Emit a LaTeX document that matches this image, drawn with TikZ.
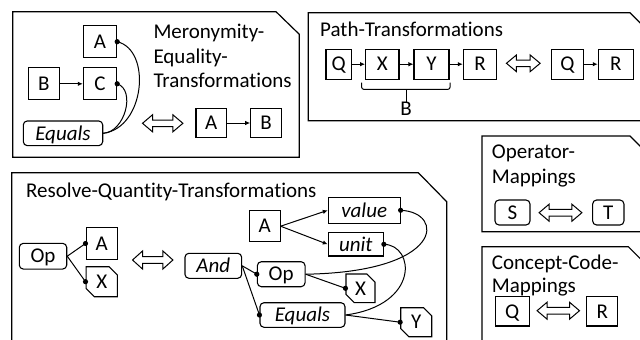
\documentclass[tikz,border=0pt]{standalone}
\usepackage{fontspec}
\setmainfont{Carlito}[Ligatures=NoCommon]
\usetikzlibrary{shapes.misc,arrows.meta,calc}
\newcommand\dblarr[5]{%
  \node[minimum width=#4pt, minimum height=#5pt] (#1) at (#2,#3) {};
  \draw[line width=1pt, line join=miter]
    (#1.west) -- ($(#1.west)+(10,#5/2)$) -- ($(#1.west)+(10,3.3)$)
    -- ($(#1.east)+(-10,3.3)$) -- ($(#1.east)+(-10,#5/2)$) -- (#1.east)
    -- ($(#1.east)+(-10,-#5/2)$) -- ($(#1.east)+(-10,-3.3)$)
    -- ($(#1.west)+(10,-3.3)$) -- ($(#1.west)+(10,-#5/2)$) -- cycle;}
\begin{document}
\begin{tikzpicture}[x=1pt,y=-1pt,
  every node/.style={font=\fontsize{21}{24.5}\selectfont, inner sep=0pt},
  bx/.style={draw, line width=1.1pt, rectangle, text height=13.5pt, text depth=0pt},
  rbx/.style={bx, rounded corners=4pt},
  cbx/.style={draw, line width=1.1pt, chamfered rectangle, chamfered rectangle corners={north east,south west}, chamfered rectangle xsep=5pt, text height=13.5pt, text depth=0pt},
  panel/.style={line width=1.2pt},
  conn/.style={line width=1pt},
  arr/.style={conn, -{Latex[length=5pt,width=4.5pt]}},
  title/.style={anchor=base west, align=left},
  dotc/.style={fill=black}
]
\useasboundingbox (0,0) rectangle (640,340);
\clip (0,0) rectangle (640,340);

% ---------- panels ----------
\draw[panel] (12.7,11.7) -- (276,11.7) -- (299.3,34.3) -- (299.3,157.3) -- (12.7,157.3) -- cycle;
\draw[panel] (308.3,12.7) -- (630,12.7) -- (653,35.7) -- (653,120.7) -- (308.3,120.7) -- cycle;
\draw[panel] (482,136) -- (630,136) -- (653,159) -- (653,231.7) -- (482,231.7) -- cycle;
\draw[panel] (482,246.7) -- (628.3,246.7) -- (651.3,269.7) -- (651.3,360) -- (482,360) -- cycle;
\draw[panel] (11.7,172.7) -- (418.3,172.7) -- (446.7,201.7) -- (446.7,360) -- (11.7,360) -- cycle;

% ---------- Meronymity-Equality-Transformations ----------
\node[title] (mT1) at (153.3,38.3) {Meronymity-};
\node[title] (mT2) at (153.3,63) {Equality-};
\node[title] (mT3) at (153.3,87.5) {Transformations};
\node[bx, minimum width=33.3pt, minimum height=32pt] (mA) at (100,41.7) {A};
\node[bx, minimum width=33.3pt, minimum height=32pt] (mC) at (100,83.8) {C};
\node[bx, minimum width=31pt, minimum height=32pt] (mB) at (43.8,83.8) {B};
\node[rbx, minimum width=79.4pt, minimum height=24.7pt] (mEq) at (63,133.3) {\itshape Equals};
\draw[arr] (mB) -- (mC);
\draw[conn] (mEq.east) .. controls (145,128) and (152,50) .. (mA.east);
\draw[conn] (mEq.east) .. controls (125,132) and (136,90) .. (mC.east);
\fill[dotc] (mA.east) circle (2.6);
\fill[dotc] (mC.east) circle (2.6);
\dblarr{mDA}{162.7}{123.3}{40}{17}
\node[bx, minimum width=30.7pt, minimum height=29pt] (mA2) at (211.3,123) {A};
\node[bx, minimum width=31pt, minimum height=29pt] (mB2) at (266.2,123) {B};
\draw[arr] (mA2) -- (mB2);

% ---------- Path-Transformations ----------
\node[title] (pT) at (320,36) {Path-Transformations};
\node[bx, minimum width=25.7pt, minimum height=29.7pt] (pQ) at (338.8,64.2) {Q};
\node[bx, minimum width=33.3pt, minimum height=29.7pt] (pX) at (382.3,64.2) {X};
\node[bx, minimum width=35pt, minimum height=29.7pt] (pY) at (431.5,64.2) {Y};
\node[bx, minimum width=33.3pt, minimum height=29.7pt] (pR) at (480,64.2) {R};
\draw[arr] (pQ) -- (pX);
\draw[arr] (pX) -- (pY);
\draw[arr] (pY) -- (pR);
\dblarr{pDA}{523.3}{63.3}{33.3}{16.7}
\node[bx, minimum width=31.7pt, minimum height=29.7pt] (pQ2) at (567.5,64.2) {Q};
\node[bx, minimum width=35pt, minimum height=29.7pt] (pR2) at (615.8,64.2) {R};
\draw[arr] (pQ2) -- (pR2);
\node[text height=13.5pt, text depth=0pt] (pB) at (406,108.5) {B};
\coordinate (brL) at (361.7,82.7);
\coordinate (brR) at (450,82.7);
\coordinate (brM) at (406,89.3);
\draw[conn, rounded corners=2pt] (brL) -- (361.7,89.3) -- (450,89.3) -- (brR);
\draw[conn] (brM) -- (pB.north);

% ---------- Operator-Mappings ----------
\node[title] (oT1) at (491.7,158.8) {Operator-};
\node[title] (oT2) at (491.7,183.3) {Mappings};
\node[rbx, minimum width=35pt, minimum height=25pt] (oS) at (512.5,212.5) {S};
\dblarr{oDA}{560.5}{212.7}{42.4}{17}
\node[rbx, minimum width=31.3pt, minimum height=25pt] (oT) at (608.3,212.5) {T};

% ---------- Concept-Code-Mappings ----------
\node[title] (cT1) at (491.7,269) {Concept-Code-};
\node[title] (cT2) at (491.7,292.5) {Mappings};
\node[bx, minimum width=34.3pt, minimum height=29.3pt] (cQ) at (512.2,311.3) {Q};
\dblarr{cDA}{558.3}{310.7}{42}{17}
\node[bx, minimum width=31pt, minimum height=29.3pt] (cR) at (602.2,311.3) {R};

% ---------- Resolve-Quantity-Transformations ----------
\node[title] (rT) at (26,197.3) {Resolve-Quantity-Transformations};
\node[rbx, minimum width=47.4pt, minimum height=25.7pt] (rOp) at (43,256.2) {Op};
\node[bx, minimum width=31.3pt, minimum height=31.6pt] (rA) at (101.7,243.5) {A};
\node[cbx, minimum width=31.3pt, minimum height=30pt] (rX) at (101.7,281.7) {X};
\draw[conn] (rOp.east) -- (rA.west);
\draw[conn] (rOp.east) -- (rX.west);
\fill[dotc] (rA.west) circle (2.6);
\fill[dotc] (rX.west) circle (2.6);
\dblarr{rDA}{152.7}{260}{40}{18}
\node[rbx, minimum width=56.7pt, minimum height=25pt] (rAnd) at (213.3,265.8) {\itshape And};
\node[bx, minimum width=30.7pt, minimum height=31pt] (rA2) at (264.7,226.2) {A};
\node[bx, minimum width=71.7pt, minimum height=26pt] (rVal) at (364.2,210.3) {\itshape value};
\node[bx, minimum width=55pt, minimum height=23.3pt] (rUnit) at (355.8,244.3) {\itshape unit};
\node[rbx, minimum width=47.7pt, minimum height=25pt] (rOp2) at (281.2,274.2) {Op};
\node[cbx, minimum width=29pt, minimum height=28.7pt] (rX2) at (360.5,288.3) {X};
\node[rbx, minimum width=85pt, minimum height=24.6pt] (rEq) at (302.5,315) {\itshape Equals};
\node[cbx, minimum width=31pt, minimum height=29pt] (rY2) at (416.2,322.2) {Y};
\draw[arr] (rA2.east) -- (rVal.west);
\draw[arr] (rA2.east) -- (rUnit.west);
\draw[conn] (rAnd.east) -- (rOp2.west);
\draw[conn] (rAnd.east) -- (rEq.west);
\draw[conn] (rOp2.east) -- (rX2.west);
\draw[conn] (rEq.east) -- (rY2.west);
\draw[conn] (rVal.east) .. controls (445,212) and (445,272) .. (rOp2.east);
\draw[conn] (rUnit.east) .. controls (415,245) and (420,305) .. (rEq.east);
\fill[dotc] (rVal.east) circle (2.6);
\fill[dotc] (rUnit.east) circle (2.6);
\fill[dotc] (rOp2.west) circle (2.6);
\fill[dotc] (rEq.west) circle (2.6);
\fill[dotc] (rX2.west) circle (2.6);
\fill[dotc] (rY2.west) circle (2.6);
\end{tikzpicture}
\end{document}
